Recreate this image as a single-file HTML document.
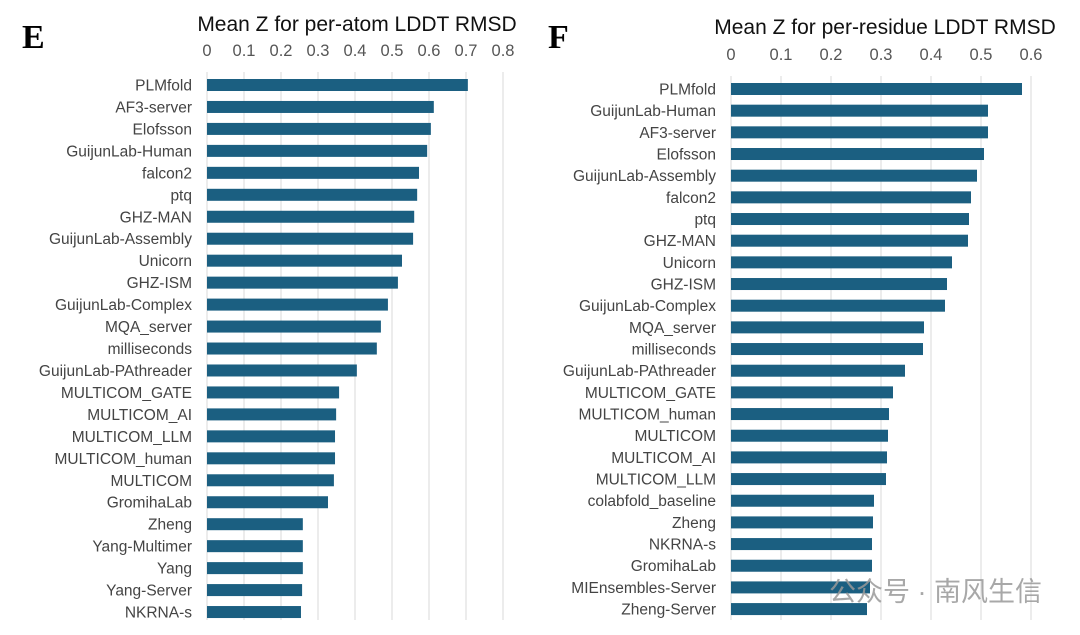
<!DOCTYPE html>
<html><head><meta charset="utf-8"><style>
html,body{margin:0;padding:0;background:#fff;}
svg{display:block;font-family:"Liberation Sans",sans-serif;}
</style></head><body>
<svg id="svg" width="1080" height="635" viewBox="0 0 1080 635">
<text x="22" y="48" font-family="Liberation Serif,serif" font-weight="bold" font-size="34" fill="#000">E</text>
<text x="548" y="48" font-family="Liberation Serif,serif" font-weight="bold" font-size="34" fill="#000">F</text>
<text x="357" y="31" text-anchor="middle" font-size="21" fill="#111">Mean Z for per-atom LDDT RMSD</text>
<text x="885" y="34" text-anchor="middle" font-size="21" fill="#111">Mean Z for per-residue LDDT RMSD</text>
<g id="e"></g><g id="f"></g>
<text x="1042" y="601" text-anchor="end" font-family="Liberation Sans,'Noto Sans CJK SC',sans-serif" font-size="27" fill="#999" opacity="0.85">公众号 · 南风生信</text>
</svg>
<script>
const catsE=["PLMfold","AF3-server","Elofsson","GuijunLab-Human","falcon2","ptq","GHZ-MAN","GuijunLab-Assembly","Unicorn","GHZ-ISM","GuijunLab-Complex","MQA_server","milliseconds","GuijunLab-PAthreader","MULTICOM_GATE","MULTICOM_AI","MULTICOM_LLM","MULTICOM_human","MULTICOM","GromihaLab","Zheng","Yang-Multimer","Yang","Yang-Server","NKRNA-s"];
const valsE=[0.705,0.613,0.605,0.595,0.573,0.568,0.56,0.557,0.527,0.516,0.489,0.47,0.459,0.405,0.357,0.349,0.346,0.346,0.343,0.327,0.259,0.259,0.259,0.257,0.254];
const ticksE=[0,0.1,0.2,0.3,0.4,0.5,0.6,0.7,0.8];
const catsF=["PLMfold","GuijunLab-Human","AF3-server","Elofsson","GuijunLab-Assembly","falcon2","ptq","GHZ-MAN","Unicorn","GHZ-ISM","GuijunLab-Complex","MQA_server","milliseconds","GuijunLab-PAthreader","MULTICOM_GATE","MULTICOM_human","MULTICOM","MULTICOM_AI","MULTICOM_LLM","colabfold_baseline","Zheng","NKRNA-s","GromihaLab","MIEnsembles-Server","Zheng-Server"];
const valsF=[0.582,0.514,0.514,0.506,0.492,0.48,0.476,0.474,0.442,0.432,0.428,0.386,0.384,0.348,0.324,0.316,0.314,0.312,0.31,0.286,0.284,0.282,0.282,0.278,0.272];
const ticksF=[0,0.1,0.2,0.3,0.4,0.5,0.6];
const NS="http://www.w3.org/2000/svg";
function mk(t,a,p){const e=document.createElementNS(NS,t);for(const k in a)e.setAttribute(k,a[k]);p.appendChild(e);return e;}
function draw(gid,cats,vals,ticks,x0,pxPer,y0,step,tickY,gridTop,gridBot,tag){
  const g=document.getElementById(gid);
  const xs=v=>x0+v*pxPer;
  ticks.forEach(t=>{
    const l=mk('line',{x1:xs(t),x2:xs(t),y1:gridTop,y2:gridBot,stroke:'#d9d9d9','stroke-width':1},g);
    
    
    const tx=mk('text',{x:xs(t),y:tickY,'text-anchor':'middle','font-size':16.5,fill:'#555'},g);
    tx.textContent=String(t);
    
    
  });
  cats.forEach((c,i)=>{
    const cy=y0+i*step;
    const r=mk('rect',{x:x0,y:cy-6,width:xs(vals[i])-x0,height:12,fill:'#1b5f81'},g);
    
    
    const tx=mk('text',{x:x0-15,y:cy+5.5,'text-anchor':'end','font-size':15.5,fill:'#444'},g);
    tx.textContent=c;
    
    
  });
}
draw('e',catsE,valsE,ticksE,207,370,85,21.96,56,72,620,'chart-e');
draw('f',catsF,valsF,ticksF,731,500,89,21.67,60,76,620,'chart-f');
</script>
</body></html>
